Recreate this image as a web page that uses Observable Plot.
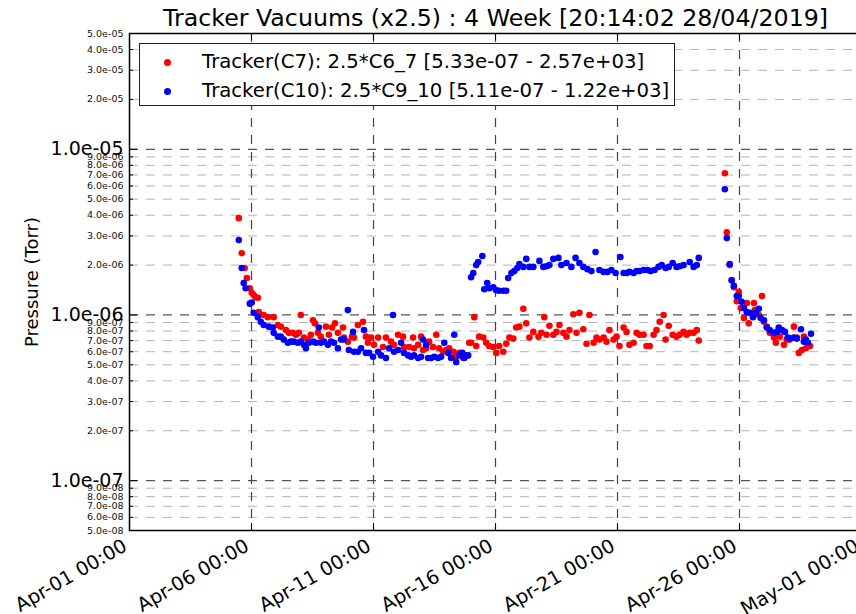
<!DOCTYPE html>
<html><head><meta charset="utf-8">
<script src="https://cdn.jsdelivr.net/npm/d3@7"></script>
<script src="https://cdn.jsdelivr.net/npm/@observablehq/plot@0.6"></script>
<style>
html,body{margin:0;padding:0;background:#fff;overflow:hidden;width:856px;height:614px;}
#wrap{position:relative;width:856px;height:614px;overflow:hidden;font-family:"DejaVu Sans",sans-serif;}
#chart svg{max-width:none !important;display:block;}
#legend{position:absolute;left:139px;top:43px;width:534px;height:61px;border:1.5px solid #222;background:#fff;}
.row{position:absolute;left:0;height:24px;line-height:24px;font-size:19.7px;color:#000;white-space:nowrap;}
.dot{position:absolute;left:24px;top:8.5px;width:7px;height:7px;border-radius:50%;}
.lbl{position:absolute;left:62px;top:0;}
</style></head>
<body><div id="wrap"><div id="chart"></div>
<div id="legend"></div></div>
<script>
const title = "Tracker Vacuums (x2.5) : 4 Week [20:14:02 28/04/2019]";
const yLabel = "Pressure (Torr)";
const seriesNames = ["Tracker(C7): 2.5*C6_7 [5.33e-07 - 2.57e+03]", "Tracker(C10): 2.5*C9_10 [5.11e-07 - 1.22e+03]"];
const seriesColors = ["#ff0000", "#0000ff"];

const xTicks = ["2019-04-01","2019-04-06","2019-04-11","2019-04-16","2019-04-21","2019-04-26","2019-05-01"];
const xTickLabels = ["Apr-01 00:00","Apr-06 00:00","Apr-11 00:00","Apr-16 00:00","Apr-21 00:00","Apr-26 00:00","May-01 00:00"];
const yMajorTicks = [1e-5, 1e-6, 1e-7];
const yMinorTicks = [5e-5,4e-5,3e-5,2e-5, 9e-6,8e-6,7e-6,6e-6,5e-6,4e-6,3e-6,2e-6, 9e-7,8e-7,7e-7,6e-7,5e-7,4e-7,3e-7,2e-7, 9e-8,8e-8,7e-8,6e-8,5e-8];

// days since 2019-04-01 00:00 UTC
const c7Days = [4.48,4.60,4.72,4.81,4.93,5.01,5.09,5.17,5.26,5.30,5.50,5.67,5.91,6.08,6.20,6.41,6.53,6.69,6.82,6.94,7.02,7.15,7.31,7.43,7.52,7.60,7.72,7.84,8.05,8.17,8.30,8.42,8.54,8.75,8.79,8.95,9.12,9.20,9.36,9.57,9.69,9.77,9.90,10.02,10.19,10.39,10.51,10.72,10.84,11.01,11.21,11.25,11.46,11.62,11.66,11.83,11.95,12.03,12.16,12.28,12.44,12.57,12.69,12.86,12.98,13.10,13.27,13.39,13.51,13.68,13.80,13.92,14.00,14.13,14.21,14.33,14.50,14.62,14.74,14.91,15.03,15.15,15.32,15.44,15.57,15.73,15.85,15.98,16.14,16.26,16.39,16.55,16.76,16.88,17.00,17.09,17.21,17.37,17.50,17.62,17.78,17.91,18.03,18.19,18.32,18.44,18.60,18.73,18.85,19.02,19.14,19.26,19.43,19.55,19.67,19.84,19.96,20.08,20.25,20.37,20.49,20.66,20.78,20.90,21.07,21.19,21.32,21.48,21.60,21.73,21.89,21.97,22.10,22.26,22.42,22.55,22.71,22.83,22.96,23.12,23.25,23.33,24.40,24.48,24.60,24.68,24.77,24.89,24.97,25.05,25.18,25.30,25.38,25.59,25.63,25.79,25.92,26.00,26.12,26.24,26.41,26.49,26.65,26.82,26.94,27.06,27.23,27.35,27.43,27.56,27.64,27.72,27.89];
const c7Values = [3.84e-6,2.36e-6,1.92e-6,1.67e-6,1.45e-6,1.36e-6,1.32e-6,1.28e-6,1.27e-6,1.04e-6,1.00e-6,9.7e-7,9.7e-7,8.7e-7,8.5e-7,8.1e-7,7.8e-7,7.8e-7,7.6e-7,7.8e-7,1.00e-6,7.3e-7,7.1e-7,7.6e-7,9.3e-7,8.9e-7,7.8e-7,7.4e-7,8.5e-7,7.6e-7,8.4e-7,8.9e-7,7.8e-7,8.4e-7,7.3e-7,6.9e-7,7.4e-7,7.3e-7,8.7e-7,9.1e-7,7.4e-7,6.8e-7,7.3e-7,6.6e-7,7.3e-7,6.4e-7,7.3e-7,6.9e-7,6.6e-7,7.6e-7,7.4e-7,6.4e-7,6.4e-7,7.3e-7,6.3e-7,6.6e-7,7.4e-7,6.15e-7,6.3e-7,6.9e-7,6.4e-7,7.6e-7,6.3e-7,6.0e-7,6.15e-7,6.3e-7,6.0e-7,5.6e-7,5.9e-7,5.5e-7,5.7e-7,6.8e-7,6.8e-7,9.7e-7,6.5e-7,7.4e-7,7.3e-7,6.8e-7,6.5e-7,6.4e-7,5.9e-7,6.5e-7,6.0e-7,6.7e-7,7.3e-7,7.2e-7,8.4e-7,8.5e-7,1.09e-6,8.9e-7,7.3e-7,7.9e-7,7.4e-7,7.8e-7,9.7e-7,7.6e-7,8.6e-7,7.6e-7,7.9e-7,8.7e-7,7.8e-7,7.4e-7,8.1e-7,1.01e-6,7.8e-7,1.03e-6,8.2e-7,6.7e-7,1.00e-6,6.8e-7,7.3e-7,7.1e-7,7.3e-7,6.9e-7,8.1e-7,7.1e-7,7.4e-7,6.5e-7,8.4e-7,7.9e-7,6.6e-7,6.8e-7,7.8e-7,7.6e-7,7.6e-7,6.5e-7,6.5e-7,7.6e-7,8.1e-7,9.1e-7,1.00e-6,7.1e-7,8.6e-7,7.6e-7,7.4e-7,7.6e-7,7.9e-7,7.6e-7,7.8e-7,7.8e-7,8.1e-7,7.0e-7,7.17e-6,3.16e-6,2.00e-6,1.62e-6,1.47e-6,1.21e-6,1.38e-6,1.10e-6,9.6e-7,1.18e-6,8.9e-7,1.18e-6,1.07e-6,1.00e-6,1.30e-6,9.1e-7,8.5e-7,7.8e-7,7.3e-7,6.8e-7,7.4e-7,6.6e-7,7.1e-7,7.1e-7,8.5e-7,7.3e-7,5.9e-7,6.15e-7,7.4e-7,6.3e-7,6.5e-7];

const c10Days = [4.48,4.60,4.68,4.76,4.93,5.01,5.09,5.26,5.38,5.50,5.71,5.87,5.91,6.08,6.20,6.32,6.49,6.61,6.74,6.90,7.02,7.15,7.23,7.35,7.52,7.64,7.76,7.84,7.97,8.13,8.26,8.38,8.54,8.67,8.79,8.95,8.99,9.16,9.20,9.36,9.49,9.61,9.69,9.82,9.98,10.19,10.31,10.51,10.64,10.80,10.84,11.01,11.13,11.25,11.42,11.54,11.66,11.83,11.95,12.03,12.16,12.24,12.36,12.49,12.65,12.77,12.90,13.06,13.18,13.31,13.39,13.51,13.64,13.72,13.88,14.00,14.09,14.21,14.29,14.46,14.54,14.66,14.74,14.91,15.03,15.15,15.32,15.44,15.52,15.65,15.77,15.89,15.98,16.14,16.26,16.39,16.55,16.80,16.96,17.09,17.21,17.37,17.58,17.70,17.91,18.11,18.28,18.44,18.60,18.77,18.93,19.10,19.26,19.43,19.59,19.75,19.92,20.12,20.25,20.37,20.49,20.66,20.78,20.90,21.07,21.23,21.36,21.52,21.68,21.81,21.97,22.10,22.26,22.42,22.55,22.71,22.96,23.12,23.25,23.33,24.40,24.48,24.60,24.68,24.77,24.89,24.97,25.09,25.18,25.30,25.42,25.55,25.67,25.79,25.87,26.00,26.12,26.24,26.41,26.53,26.61,26.74,26.86,26.98,27.06,27.23,27.35,27.52,27.64,27.72,27.80,27.93];
const c10Values = [2.83e-6,1.92e-6,1.56e-6,1.45e-6,1.17e-6,1.19e-6,1.03e-6,9.7e-7,9.1e-7,8.7e-7,8.5e-7,8.4e-7,7.8e-7,7.4e-7,7.4e-7,7.1e-7,6.8e-7,6.9e-7,6.9e-7,6.8e-7,6.9e-7,6.6e-7,6.3e-7,6.8e-7,6.9e-7,6.8e-7,8.4e-7,6.8e-7,6.9e-7,6.6e-7,6.9e-7,6.8e-7,6.3e-7,7.1e-7,7.1e-7,1.07e-6,6.15e-7,7.9e-7,6.0e-7,6.0e-7,6.3e-7,8.1e-7,5.9e-7,5.9e-7,5.6e-7,6.0e-7,5.7e-7,5.5e-7,6.3e-7,1.00e-6,6.0e-7,6.15e-7,6.8e-7,5.9e-7,5.7e-7,5.6e-7,5.7e-7,5.5e-7,5.6e-7,7.1e-7,6.6e-7,5.5e-7,5.5e-7,5.6e-7,5.5e-7,5.6e-7,6.8e-7,5.9e-7,5.5e-7,7.6e-7,5.2e-7,5.7e-7,5.9e-7,5.5e-7,5.7e-7,1.69e-6,1.79e-6,2.00e-6,2.09e-6,2.27e-6,1.43e-6,1.56e-6,1.45e-6,1.47e-6,1.41e-6,1.40e-6,1.40e-6,1.40e-6,1.67e-6,1.79e-6,1.84e-6,1.92e-6,2.03e-6,1.95e-6,2.18e-6,1.95e-6,1.95e-6,2.12e-6,1.95e-6,1.97e-6,2.00e-6,2.18e-6,2.21e-6,2.00e-6,2.06e-6,1.95e-6,2.21e-6,2.06e-6,1.95e-6,1.89e-6,1.84e-6,2.40e-6,1.87e-6,1.82e-6,1.82e-6,1.87e-6,1.79e-6,2.24e-6,1.79e-6,1.79e-6,1.82e-6,1.79e-6,1.84e-6,1.84e-6,1.87e-6,1.87e-6,1.84e-6,1.87e-6,1.95e-6,2.00e-6,1.92e-6,1.95e-6,2.06e-6,1.95e-6,1.97e-6,2.00e-6,2.09e-6,1.95e-6,2.00e-6,2.21e-6,5.74e-6,2.91e-6,2.03e-6,1.62e-6,1.50e-6,1.30e-6,1.30e-6,1.20e-6,1.10e-6,1.04e-6,1.03e-6,9.7e-7,1.03e-6,1.09e-6,9.6e-7,9.3e-7,8.4e-7,8.1e-7,7.8e-7,7.9e-7,8.4e-7,8.1e-7,7.9e-7,7.3e-7,7.2e-7,7.3e-7,7.2e-7,8.2e-7,6.9e-7,7.1e-7,6.8e-7,7.7e-7];

const T0 = Date.UTC(2019, 3, 1);
const toDate = d => new Date(T0 + d * 864e5);
const c7 = c7Days.map((d, i) => ({t: toDate(d), p: c7Values[i]}));
const c10 = c10Days.map((d, i) => ({t: toDate(d), p: c10Values[i]}));
const xTickDates = xTicks.map(s => new Date(s + "T00:00:00Z"));
const xStart = xTickDates[0], xEnd = xTickDates[xTickDates.length - 1];
const yMin = 5e-8, yMax = 5e-5;

const W = 862, H = 614, mL = 129, mR = 1, mT = 33, mB = 84;
const msPerPx = (xEnd - xStart) / (W - mL - mR);
const decPerPx = Math.log10(yMax / yMin) / (H - mT - mB);
const tickDx = px => new Date(+xStart + px * msPerPx);
const fmt = v => { const [m, e] = v.toExponential(1).split("e"); const n = Math.abs(+e); return m + "e" + (+e < 0 ? "-" : "+") + String(n).padStart(2, "0"); };

const chart = Plot.plot({
  width: W, height: H,
  marginLeft: mL, marginRight: mR, marginTop: mT, marginBottom: mB,
  style: {fontFamily: "DejaVu Sans", background: "white", overflow: "hidden", color: "#000", maxWidth: "none"},
  x: {type: "utc", domain: [xStart, xEnd], axis: null},
  y: {type: "log", domain: [yMin, yMax], nice: false, axis: null},
  marks: [
    Plot.ruleY(yMinorTicks.slice(1, -1), {y: d => d, stroke: "#b4b4b4", strokeWidth: 1, strokeDasharray: "9,8"}),
    Plot.ruleY(yMajorTicks, {y: d => d, stroke: "#555", strokeWidth: 1.2, strokeDasharray: "9,8"}),
    Plot.ruleX(xTickDates.slice(1), {x: d => d, stroke: "#444", strokeWidth: 1.2, strokeDasharray: "9,8"}),
    // axis ticks (inside)
    Plot.ruleY(yMinorTicks, {y: d => d, x1: xStart, x2: tickDx(4), stroke: "#000", strokeWidth: 1}),
    Plot.ruleY(yMajorTicks, {y: d => d, x1: xStart, x2: tickDx(8), stroke: "#000", strokeWidth: 1}),
    Plot.ruleX(xTickDates, {x: d => d, y1: yMin, y2: yMin * Math.pow(10, 7 * decPerPx), stroke: "#000", strokeWidth: 1}),
    Plot.ruleX(xTickDates, {x: d => d, y1: yMax, y2: yMax / Math.pow(10, 7 * decPerPx), stroke: "#000", strokeWidth: 1}),
    Plot.frame({stroke: "#000", strokeWidth: 1.5}),
    // data
    Plot.dot(c7, {x: "t", y: "p", r: 3.3, fill: seriesColors[0], stroke: "none"}),
    Plot.dot(c10, {x: "t", y: "p", r: 3.3, fill: seriesColors[1], stroke: "none"}),
    // y tick labels
    Plot.text(yMinorTicks, {x: xStart, y: d => d, text: fmt, dx: -6, textAnchor: "end", lineAnchor: "middle", fontSize: 9.5, fill: "#111"}),
    Plot.text(yMajorTicks, {x: xStart, y: d => d, text: fmt, dx: -6, textAnchor: "end", lineAnchor: "middle", fontSize: 19, fill: "#000"}),
    // x tick labels
    Plot.text(xTickDates, {x: d => d, y: yMin, text: (d, i) => xTickLabels[i], dx: -1, dy: 19, rotate: -30, textAnchor: "end", lineAnchor: "bottom", fontSize: 19.3, fill: "#000"}),
    // title and y label
    Plot.text([title], {frameAnchor: "top", dy: -15, lineAnchor: "middle", fontSize: 23.7, fill: "#000"}),
    Plot.text([yLabel], {frameAnchor: "left", dx: -97, rotate: -90, textAnchor: "middle", lineAnchor: "middle", fontSize: 18, fill: "#000"})
  ]
});
document.getElementById("chart").appendChild(chart);

const legend = document.getElementById("legend");
seriesNames.forEach((name, i) => {
  const row = document.createElement("div");
  row.className = "row";
  row.style.top = (6 + i * 29) + "px";
  row.style.width = "100%";
  const dot = document.createElement("span");
  dot.className = "dot";
  dot.style.background = seriesColors[i];
  const lbl = document.createElement("span");
  lbl.className = "lbl";
  lbl.textContent = name;
  row.appendChild(dot); row.appendChild(lbl);
  legend.appendChild(row);
});
</script></body></html>
